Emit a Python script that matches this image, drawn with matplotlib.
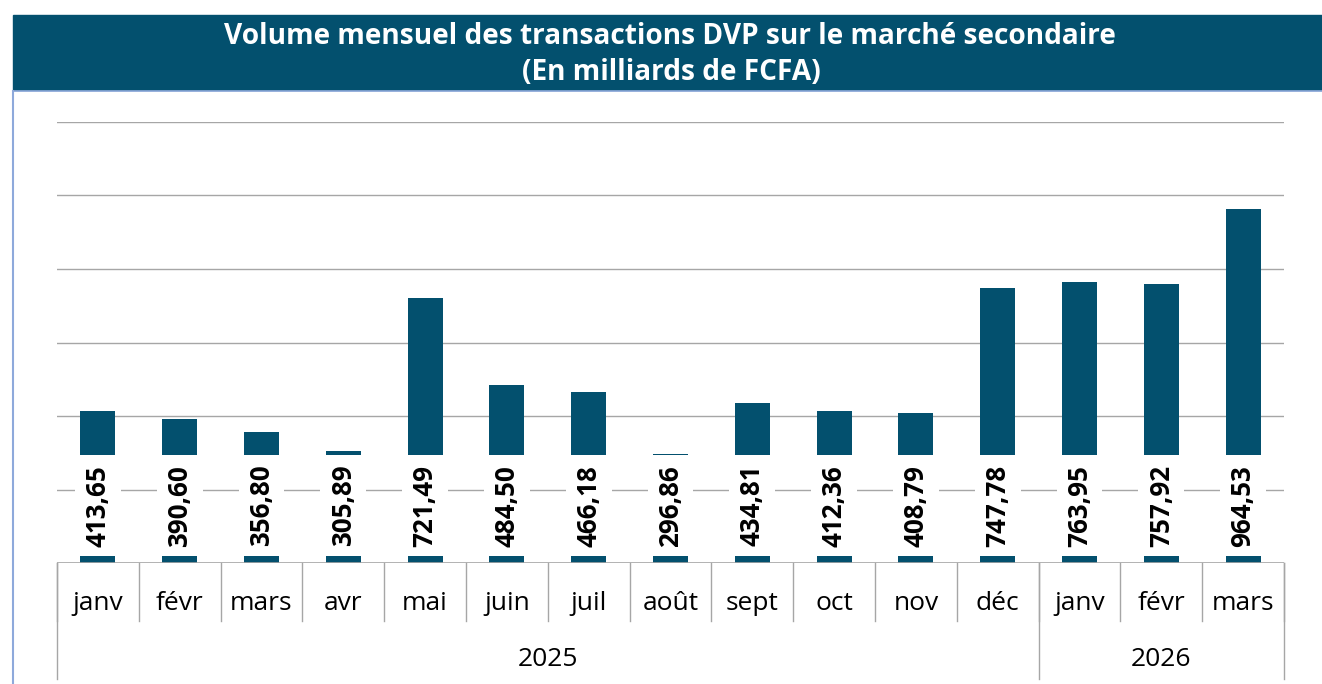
import matplotlib
matplotlib.use("Agg")
import matplotlib.pyplot as plt
import matplotlib.transforms as mtransforms
from matplotlib.patches import Rectangle
from matplotlib.lines import Line2D

months = ["janv", "févr", "mars", "avr", "mai", "juin", "juil", "août",
          "sept", "oct", "nov", "déc", "janv", "févr", "mars"]
years = ["2025", "2026"]
months_per_year = [12, 3]
volumes = [413.65, 390.60, 356.80, 305.89, 721.49, 484.50, 466.18, 296.86,
           434.81, 412.36, 408.79, 747.78, 763.95, 757.92, 964.53]

title_line1 = "Volume mensuel des transactions DVP sur le marché secondaire"
title_line2 = "(En milliards de FCFA)"

navy = "#03506E"
grid_col = "#A6A6A6"
border_col = "#8EA9DB"

plt.rcParams["font.family"] = ["Open Sans", "DejaVu Sans"]

W, H = 1322, 684
fig = plt.figure(figsize=(W / 100, H / 100), dpi=100)


def fx(px):
    return px / W


def fy(py):
    return 1 - py / H


# title band
fig.patches.append(Rectangle((fx(13), fy(90)), 1 - fx(13), fy(15) - fy(90),
                             transform=fig.transFigure, color=navy, zorder=0))
fig.text(fx(670), fy(37), title_line1, color="white", fontsize=20.2,
         fontweight="bold", ha="center", va="center")
fig.text(fx(671), fy(73), title_line2, color="white", fontsize=20.2,
         fontweight="bold", ha="center", va="center")
fig.lines.append(Line2D([fx(13), fx(13)], [fy(91), 0], transform=fig.transFigure,
                        color=border_col, lw=1.5))
fig.lines.append(Line2D([fx(13), 1], [fy(91), fy(91)], transform=fig.transFigure,
                        color=border_col, lw=1.2))

ax = fig.add_axes([fx(57), fy(563), fx(1284) - fx(57), fy(122) - fy(563)])
x = list(range(len(months)))
ax.bar(x, volumes, width=0.43, color=navy, zorder=2)
ax.set_xlim(-0.5, len(months) - 0.5)
ax.set_ylim(0, 1200)
for g in range(200, 1201, 200):
    ax.axhline(g, color=grid_col, lw=1, zorder=1)
ax.axhline(0, color=grid_col, lw=1.2, zorder=3)
for s in ax.spines.values():
    s.set_visible(False)
ax.set_xticks([])
ax.set_yticks([])

# value labels in white boxes
for xi, v in zip(x, volumes):
    ax.add_patch(Rectangle((xi - 0.28, 19), 0.56, 275, facecolor="white",
                           edgecolor="none", zorder=4))
    ax.text(xi, 156, f"{v:.2f}".replace(".", ","), rotation=90, ha="center",
            va="center", fontsize=18.7, fontweight="bold", color="black", zorder=5)

# hierarchical category axis
tr = mtransforms.blended_transform_factory(ax.transData, fig.transFigure)
for k in range(len(months) + 1):
    ax.add_line(Line2D([k - 0.5, k - 0.5], [fy(563), fy(621)], transform=tr,
                       color=grid_col, lw=1, clip_on=False))
for xi, m in zip(x, months):
    ax.text(xi, fy(603), m, transform=tr, ha="center", va="center",
            fontsize=19, color="black")
start = 0
bounds = [0]
for yr, n in zip(years, months_per_year):
    ax.text(start + (n - 1) / 2, fy(660), yr, transform=tr, ha="center",
            va="center", fontsize=19, color="black")
    start += n
    bounds.append(start)
for b in bounds:
    ax.add_line(Line2D([b - 0.5, b - 0.5], [fy(563), fy(679)], transform=tr,
                       color=grid_col, lw=1, clip_on=False))

fig.savefig("out.png", dpi=100)
